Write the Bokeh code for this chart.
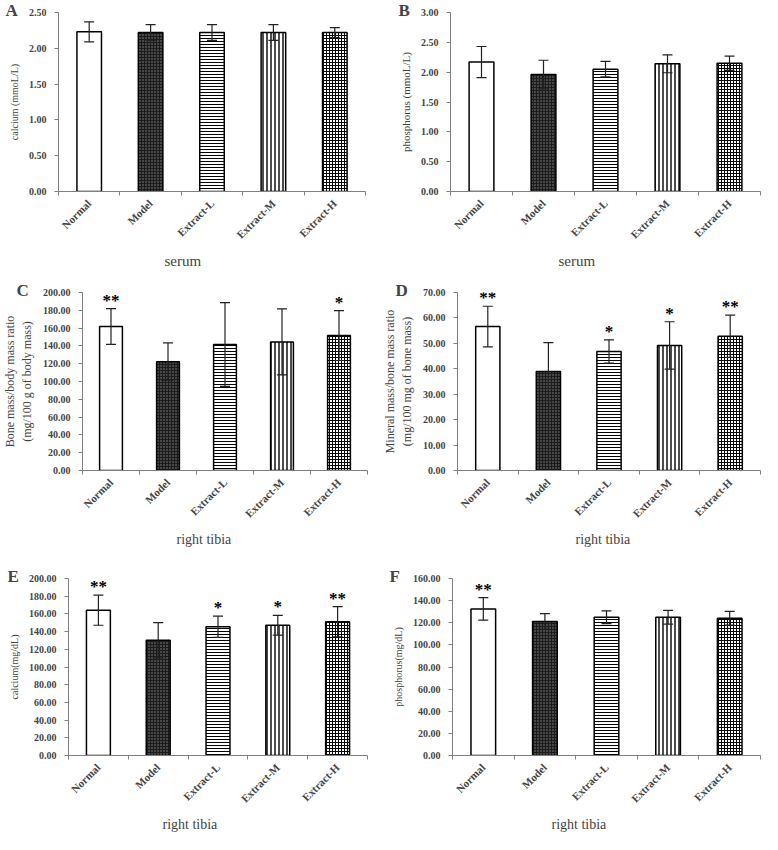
import math
from bokeh.plotting import figure
from bokeh.models import (ColumnDataSource, Whisker, TeeHead, FixedTicker,
                          PrintfTickFormatter, Title, Range1d)
from bokeh.layouts import column, row
from bokeh.embed import file_html
from bokeh.resources import INLINE
from bokeh.core.properties import value

groups = ["Normal", "Model", "Extract-L", "Extract-M", "Extract-H"]

# Panel A: serum calcium (mmoL/L)
a_mean = [2.23, 2.22, 2.22, 2.22, 2.22]
a_sd = [0.14, 0.11, 0.11, 0.11, 0.07]
a_sig = ["", "", "", "", ""]

# Panel B: serum phosphorus (mmoL/L)
b_mean = [2.17, 1.96, 2.05, 2.14, 2.15]
b_sd = [0.26, 0.24, 0.13, 0.15, 0.12]
b_sig = ["", "", "", "", ""]

# Panel C: bone mass / body mass ratio
c_mean = [161.8, 122.3, 141.6, 144.5, 151.6]
c_sd = [20.0, 21.0, 47.0, 37.0, 28.0]
c_sig = ["**", "", "", "", "*"]

# Panel D: mineral mass / bone mass ratio
d_mean = [56.6, 38.9, 46.8, 49.2, 52.8]
d_sd = [8.0, 11.4, 4.6, 9.3, 8.3]
d_sig = ["**", "", "*", "*", "**"]

# Panel E: tibia calcium (mg/dL)
e_mean = [164.2, 130.2, 145.4, 147.2, 151.2]
e_sd = [17.0, 20.0, 12.0, 11.2, 17.0]
e_sig = ["**", "", "*", "*", "**"]

# Panel F: tibia phosphorus (mg/dL)
f_mean = [132.5, 121.2, 125.0, 125.0, 124.1]
f_sd = [10.2, 7.0, 5.8, 6.2, 6.2]
f_sig = ["**", "", "", "", ""]

# y axis tick values per panel
a_ticks = [0, 0.5, 1.0, 1.5, 2.0, 2.5]
b_ticks = [0, 0.5, 1.0, 1.5, 2.0, 2.5, 3.0]
c_ticks = [0, 20, 40, 60, 80, 100, 120, 140, 160, 180, 200]
d_ticks = [0, 10, 20, 30, 40, 50, 60, 70]
e_ticks = [0, 20, 40, 60, 80, 100, 120, 140, 160, 180, 200]
f_ticks = [0, 20, 40, 60, 80, 100, 120, 140, 160]

# bar styles (per group)
FILLS = ["white", "#1c1c1c", "white", "white", "white"]
HATCHES = [" ", "dot", "horizontal_line", "vertical_line", "cross"]
HCOLORS = ["black", "#8a8a8a", "black", "black", "black"]
HSCALES = [4, 3, 3, 4, 3]
HWEIGHTS = [1, 1, 1, 1.4, 1]

SERIF = "Liberation Serif"
GRAY = "#808080"


def panel(letter, means, sds, sig, ticks, ylabel, xlabel, ylab_size,
          width, height, bl, br, bt, bb, letter_dx, xlabel_dx, xlabel_size):
    n = len(groups)
    xs = [i + 0.5 for i in range(n)]
    src = ColumnDataSource(dict(
        x=xs, top=means,
        upper=[m + s for m, s in zip(means, sds)],
        lower=[m - s for m, s in zip(means, sds)],
        sig=sig, fill=FILLS, hatch=HATCHES, hcol=HCOLORS, hscale=HSCALES,
        hw=HWEIGHTS,
    ))
    p = figure(width=width, height=height, output_backend="svg",
               toolbar_location=None, x_range=Range1d(0, n),
               y_range=Range1d(ticks[0], ticks[-1]),
               min_border_left=bl, min_border_right=br,
               min_border_top=bt, min_border_bottom=bb)
    p.outline_line_color = None
    p.grid.visible = False
    p.background_fill_color = "white"

    p.vbar(x="x", top="top", bottom=0, width=0.4, source=src,
           fill_color="fill", line_color="black", line_width=1.5,
           hatch_pattern="hatch", hatch_color="hcol", hatch_scale="hscale",
           hatch_weight="hw")

    w = Whisker(base="x", upper="upper", lower="lower", source=src,
                line_color="#222222", line_width=1.2, level="annotation",
                upper_head=TeeHead(size=10, line_color="#222222", line_width=1.2),
                lower_head=TeeHead(size=10, line_color="#222222", line_width=1.2))
    p.add_layout(w)

    p.text(x="x", y="upper", text="sig", source=src, text_align="center",
           text_baseline="bottom", text_font=value(SERIF),
           text_font_style="bold", text_font_size="17px", text_color="black",
           y_offset=1)

    # y axis
    ya = p.yaxis[0]
    ya.ticker = FixedTicker(ticks=ticks)
    ya.formatter = PrintfTickFormatter(format="%.2f")
    ya.axis_line_color = GRAY
    ya.major_tick_line_color = GRAY
    ya.major_tick_out = 4
    ya.major_tick_in = 0
    ya.minor_tick_out = 0
    ya.minor_tick_in = 0
    ya.major_label_text_font = SERIF
    ya.major_label_text_font_style = "bold"
    ya.major_label_text_font_size = "10px"
    ya.major_label_standoff = 8
    ya.axis_label = ylabel
    ya.axis_label_text_font = SERIF
    ya.axis_label_text_font_style = "normal"
    ya.axis_label_text_font_size = ylab_size
    ya.axis_label_standoff = 6

    # x axis: labels at centres, tick marks at category boundaries
    xa = p.xaxis[0]
    xa.ticker = FixedTicker(ticks=xs, minor_ticks=list(range(n + 1)))
    xa.major_label_overrides = {x: g for x, g in zip(xs, groups)}
    xa.major_label_orientation = math.pi / 4
    xa.axis_line_color = GRAY
    xa.major_tick_out = 0
    xa.major_tick_in = 0
    xa.minor_tick_out = 4
    xa.minor_tick_in = 0
    xa.minor_tick_line_color = GRAY
    xa.major_label_text_font = SERIF
    xa.major_label_text_font_style = "bold"
    xa.major_label_text_font_size = "11px"
    xa.major_label_standoff = 6

    # x axis title, placed left of the frame centre as in the original
    p.add_layout(Title(text=xlabel, align="left", offset=xlabel_dx,
                       text_font=SERIF, text_font_style="normal",
                       text_font_size=xlabel_size, standoff=6), "below")

    # panel letter
    p.add_layout(Title(text=letter, align="left", offset=letter_dx,
                       text_font=SERIF, text_font_style="bold",
                       text_font_size="17px", standoff=-14), "above")
    return p


pa = panel("A", a_mean, a_sd, a_sig, a_ticks, "calcium (mmoL/L)", "serum",
           "10px", 380, 280, 58, 15, 12, 89, -53, 106, "15px")
pb = panel("B", b_mean, b_sd, b_sig, b_ticks, "phosphorus (mmoL/L)", "serum",
           "11px", 382, 280, 70, 2, 12, 89, -52, 108, "15px")
pc = panel("C", c_mean, c_sd, c_sig, c_ticks,
           "Bone mass/body mass ratio\n(mg/100 g of body mass)", "right tibia",
           "12px", 380, 277, 69, 13, 12, 87, -66, 94, "14px")
pd_ = panel("D", d_mean, d_sd, d_sig, d_ticks,
            "Mineral mass/bone mass ratio\n(mg/100 mg of bone mass)", "right tibia",
            "12px", 382, 277, 77, 2, 12, 87, -62, 118, "14px")
pe = panel("E", e_mean, e_sd, e_sig, e_ticks, "calcium(mg/dL)", "right tibia",
           "10px", 380, 277, 68, 13, 21, 76, -61, 94, "14px")
pf = panel("F", f_mean, f_sd, f_sig, f_ticks, "phosphorus(mg/dL)", "right tibia",
           "10px", 382, 277, 72, 2, 21, 76, -63, 99, "14px")

layout = column(row(pa, pb), row(pc, pd_), row(pe, pf))
open("out.html", "w").write(file_html(layout, INLINE))
